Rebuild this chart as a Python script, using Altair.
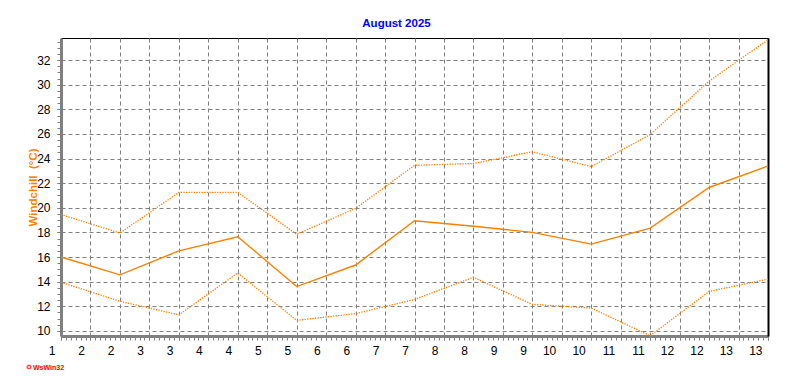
import altair as alt
import pandas as pd

days = list(range(1, 14))
windchill = [16.0, 14.55, 16.5, 17.65, 13.6, 15.35, 18.95, 18.5, 18.0, 17.05, 18.35, 21.65, 23.4]
windchill_max = [19.45, 17.95, 21.25, 21.25, 17.85, 19.95, 23.45, 23.6, 24.55, 23.35, 25.95, 30.3, 33.65]
windchill_min = [13.95, 12.4, 11.3, 14.7, 10.85, 11.4, 12.55, 14.35, 12.15, 11.85, 9.6, 13.2, 14.2]

x_major = [1 + 0.5 * i for i in range(25)]
x_minor = [1 + i / 12 for i in range(145)]
y_major = list(range(10, 33, 2))
y_minor = [9.5 + 0.5 * i for i in range(49)]

df = pd.DataFrame({"day": days, "wc": windchill, "wcmax": windchill_max, "wcmin": windchill_min})
credit = pd.DataFrame({"t": ["WsWin32"]})

FONT = "Liberation Sans"
ORANGE = "#FF8000"
GRAY = "#808080"

xscale = alt.Scale(domain=[1, 13], nice=False, zero=False)
yscale = alt.Scale(domain=[9.58, 33.8], nice=False, zero=False)

x_major_axis = alt.Axis(
    orient="bottom", title=None, values=x_major,
    labelExpr="format(round(datum.value), 'd')",
    grid=True, gridColor=GRAY, gridDash=[4, 3], gridWidth=1, gridOpacity=1,
    domain=True, domainColor=GRAY, domainWidth=3,
    ticks=True, tickSize=4, tickColor=GRAY, tickWidth=1,
    labelAlign="right", labelOffset=-6, labelPadding=5, labelBaseline="top",
    labelFont=FONT, labelFontSize=12, labelColor="black",
    labelFlush=False, labelOverlap=False,
)
y_major_axis = alt.Axis(
    orient="left", title="Windchill\u00a0 (°C)", values=y_major,
    titleX=-28, titleY=149, titleAngle=270, titleAlign="center", titleBaseline="middle",
    titleColor=ORANGE, titleFont=FONT, titleFontSize=11.5, titleFontWeight="bold",
    grid=True, gridColor=GRAY, gridDash=[4, 3], gridWidth=1, gridOpacity=1,
    domain=True, domainColor=GRAY, domainWidth=3,
    ticks=True, tickSize=4, tickColor=GRAY, tickWidth=1,
    labelPadding=7, labelFont=FONT, labelFontSize=12, labelColor="black",
    labelFlush=False, labelOverlap=False,
)
x_minor_axis = alt.Axis(
    orient="bottom", title=None, values=x_minor, labels=False, grid=False,
    domain=False, ticks=True, tickSize=4, tickColor=GRAY, tickWidth=1,
)
y_minor_axis = alt.Axis(
    orient="left", title=None, values=y_minor, labels=False, grid=False,
    domain=False, ticks=True, tickSize=4, tickColor=GRAY, tickWidth=1,
)
y_right_axis = alt.Axis(
    orient="right", title=None, labels=False, grid=False, ticks=False,
    domain=True, domainColor="black", domainWidth=2,
)

max_line = alt.Chart(df).mark_line(color=ORANGE, strokeWidth=1.3, strokeDash=[1.3, 1.3]).encode(
    x=alt.X("day:Q", scale=xscale, axis=x_minor_axis),
    y=alt.Y("wcmax:Q", scale=yscale, axis=y_minor_axis),
)
min_line = alt.Chart(df).mark_line(color=ORANGE, strokeWidth=1.3, strokeDash=[1.3, 1.3]).encode(
    x=alt.X("day:Q", scale=xscale, axis=None),
    y=alt.Y("wcmin:Q", scale=yscale, axis=y_right_axis),
)
main_line = alt.Chart(df).mark_line(color=ORANGE, strokeWidth=1.4).encode(
    x=alt.X("day:Q", scale=xscale, axis=x_major_axis),
    y=alt.Y("wc:Q", scale=yscale, axis=y_major_axis),
)
credit_dot = alt.Chart(credit).mark_point(shape="circle", filled=False, size=12, strokeWidth=1.6, color="#FF0000").encode(
    x=alt.value(-32), y=alt.value(329)
)
credit_text = alt.Chart(credit).mark_text(
    align="left", baseline="alphabetic", font=FONT, fontSize=7, fontWeight="bold", color="#FF0000"
).encode(x=alt.value(-28), y=alt.value(332), text="t:N")

chart = (
    alt.layer(max_line, min_line, main_line, credit_dot, credit_text)
    .resolve_axis(x="independent", y="independent")
    .properties(
        width=707, height=298,
        padding={"left": 53, "top": 30, "right": 16, "bottom": 43},
        autosize=alt.AutoSizeParams(type="none"),
        background="white",
        title=alt.TitleParams(
            "August 2025", font=FONT, fontSize=11.5, fontWeight="bold", color="#0000FF",
            anchor="middle", dx=-18, dy=11, offset=10, baseline="alphabetic",
        ),
    )
    .configure_view(stroke="black", strokeWidth=1)
)

chart.save("out.html", embed_options={"renderer": "svg", "actions": False})
